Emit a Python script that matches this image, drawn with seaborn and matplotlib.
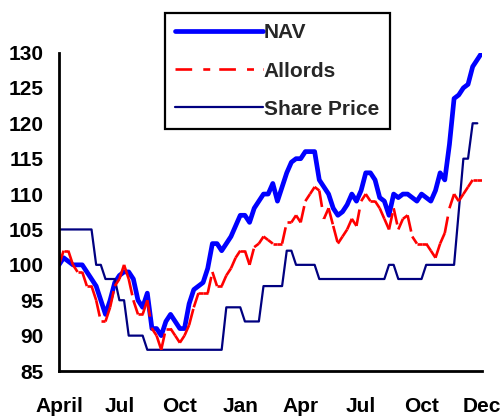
import matplotlib
matplotlib.use('Agg')
import matplotlib.pyplot as plt
from matplotlib.collections import LineCollection
import seaborn as sns

# weekly index, April through December of the following year
weeks = list(range(92))

nav = [100, 101, 100.5, 100, 100, 100, 99, 98, 97, 95,
       93, 95, 97.5, 98.5, 99, 99, 98, 95, 94, 96,
       91, 91, 90, 92, 93, 92, 91, 91, 94.5, 96.5,
       97, 97.5, 99.5, 103, 103, 102, 103, 104, 105.5, 107,
       107, 106, 108, 109, 110, 110, 111.5, 109, 111, 113,
       114.5, 115, 115, 116, 116, 116, 112, 111, 110, 108,
       107, 107.5, 108.5, 110, 109, 110.5, 113, 113, 112, 109.5,
       109, 107, 110, 109.5, 110, 110, 109.5, 109, 110, 109.5,
       109, 110.5, 113, 112, 117, 123.5, 124, 125, 125.5, 128,
       129, 130]

allords = [100, 102, 102, 100, 99, 99, 97, 97, 95, 92,
           92, 94, 97, 98, 100, 98, 95, 93, 93, 95,
           91, 90, 88, 91, 91, 90, 89, 90, 91.5, 94,
           96, 96, 96, 99, 97, 97, 98.5, 99.5, 101, 102,
           102, 100, 102.5, 103, 104, 103.5, 103, 103, 103, 106,
           106, 107, 106, 109, 110, 111, 110.5, 106.5, 108, 105.5,
           103, 104, 105, 106.5, 105.5, 109, 110, 109, 109, 108,
           106.5, 105, 108, 105, 106.5, 107, 104, 103, 103, 103,
           102, 101, 103, 104.5, 108, 110, 109, 110, 111, 112,
           112, 112]

share_price = [105, 105, 105, 105, 105, 105, 105, 105, 100, 100,
               98, 98, 98, 95, 95, 90, 90, 90, 90, 88,
               88, 88, 88, 88, 88, 88, 88, 88, 88, 88,
               88, 88, 88, 88, 88, 88, 94, 94, 94, 94,
               92, 92, 92, 92, 97, 97, 97, 97, 97, 102,
               102, 100, 100, 100, 100, 100, 98, 98, 98, 98,
               98, 98, 98, 98, 98, 98, 98, 98, 98, 98,
               98, 100, 100, 98, 98, 98, 98, 98, 98, 100,
               100, 100, 100, 100, 100, 100, 107.5, 115, 115, 120,
               120]

tick_weeks = [0, 13, 26, 39, 52, 65, 78, 91]
tick_labels = ['April', 'Jul', 'Oct', 'Jan', 'Apr', 'Jul', 'Oct', 'Dec']

dash_pattern = [12, 8, 5, 6.5]

sns.set_style('white')
plt.rcParams['font.family'] = ['Liberation Sans', 'DejaVu Sans']
plt.rcParams['font.weight'] = 'bold'
plt.rcParams['lines.scale_dashes'] = False

fig = plt.figure(figsize=(5.02, 4.18), dpi=100)
ax = fig.add_axes([0.1175, 0.1124, 0.8426, 0.762])

sns.lineplot(x=weeks, y=nav, ax=ax, color='#0000ff', linewidth=3.4, label='NAV')
sns.lineplot(x=weeks, y=allords, ax=ax, color='#ff0000', linewidth=1.9, label='Allords')
allords_line = ax.lines[-1]
allords_line.set_dashes(dash_pattern)
sns.lineplot(x=weeks[:len(share_price)], y=share_price, ax=ax, color='#000080',
             linewidth=1.6, label='Share Price')

ax.set_xlim(0, 91)
ax.set_ylim(85, 130)
ax.set_yticks(range(85, 131, 5))
ax.set_xticks(tick_weeks)
ax.set_xticklabels(tick_labels)
ax.set_xlabel('')
ax.set_ylabel('')

for side in ['top', 'right']:
    ax.spines[side].set_visible(False)
for side in ['left', 'bottom']:
    ax.spines[side].set_linewidth(2)
    ax.spines[side].set_color('black')

ax.tick_params(axis='both', direction='out', length=5, width=1.6, labelsize=15, colors='black')
ax.tick_params(axis='x', pad=14)
ax.tick_params(axis='y', pad=6)

leg = ax.legend(loc='upper left', bbox_to_anchor=(0.3287, 0.969), bbox_transform=fig.transFigure,
                borderaxespad=0, fontsize=15, handlelength=4.2, handletextpad=0.05,
                labelspacing=0.92, borderpad=0.5, fancybox=False, framealpha=1)
leg.get_frame().set_edgecolor('black')
leg.get_frame().set_linewidth(1.6)
for t in leg.get_texts():
    t.set_fontweight('bold')

# the dash pattern restarts on every weekly segment, like the original chart
pts = allords_line.get_xydata()
segs = [[pts[i], pts[i + 1]] for i in range(len(pts) - 1)]
lc = LineCollection(segs, colors='#ff0000', linewidths=1.9,
                    linestyles=[(0, dash_pattern)], capstyle='butt')
ax.add_collection(lc)
allords_line.set_visible(False)

fig.savefig('out.png', dpi=100)
